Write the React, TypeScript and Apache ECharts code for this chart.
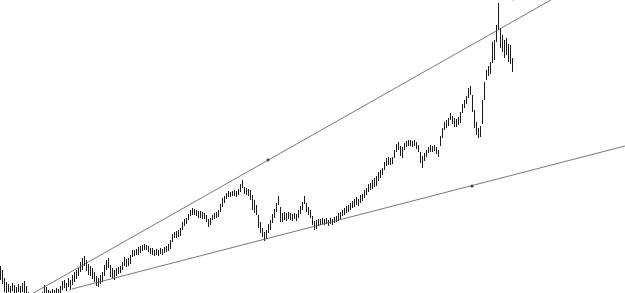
import React, { useEffect, useRef } from "react";
import * as echarts from "echarts";

// Bar highs / lows (price units), one per session, left to right
const highs = [
  27, 23, 15, 11, 9, 7, 10, 8, 6, 9, 7, 10, 12, 7, 1, -1, -3, -4, -2, -3, -1, 1, 8, 6, 3, 2, 4, 3, 5, 4,
  7, 12, 13, 10, 15, 13, 18, 21, 23, 25, 31, 35, 37, 33, 29, 27, 25, 21, 17, 15, 18, 21, 28, 33, 35, 28, 25, 23, 25, 26,
  27, 31, 36, 34, 35, 38, 43, 43, 44, 46, 47, 48, 49, 48, 47, 45, 45, 43, 44, 43, 45, 44, 46, 47, 49, 53, 59, 61, 62, 63,
  65, 71, 74, 75, 79, 83, 85, 84, 83, 82, 82, 81, 80, 78, 74, 75, 78, 80, 81, 83, 89, 95, 97, 100, 102, 101, 102, 103, 102, 104,
  109, 113, 106, 105, 104, 103, 98, 93, 88, 78, 71, 65, 61, 63, 69, 73, 79, 84, 90, 97, 86, 80, 81, 80, 81, 80, 79, 80, 79, 83,
  87, 91, 97, 90, 86, 83, 77, 72, 73, 74, 74, 75, 74, 75, 73, 75, 74, 76, 77, 80, 81, 83, 85, 87, 88, 90, 92, 94, 96, 94,
  98, 99, 103, 105, 109, 110, 113, 115, 117, 121, 123, 125, 131, 135, 136, 135, 136, 143, 149, 151, 147, 146, 150, 152, 153, 153, 152, 153, 151, 148,
  141, 137, 140, 143, 146, 148, 147, 148, 146, 143, 157, 165, 171, 173, 175, 180, 177, 175, 174, 176, 181, 189, 193, 197, 205, 207, 198, 183, 171, 165,
  167, 193, 211, 223, 227, 231, 251, 253, 268, 290, 265, 258, 253, 255, 249, 248, 235,
];
const lows = [
  13, 9, 1, 0, 1, 0, 2, 0, -2, 1, -1, 1, 0, -3, -7, -9, -11, -12, -10, -11, -8, -7, 0, -2, -5, -6, -3, -4, -2, -3,
  -1, 3, 5, 2, 6, 3, 8, 11, 14, 17, 21, 23, 27, 22, 18, 17, 14, 11, 7, 6, 9, 11, 17, 23, 25, 16, 15, 13, 17, 19,
  20, 23, 27, 26, 27, 29, 36, 37, 38, 38, 40, 42, 43, 43, 41, 39, 38, 37, 38, 37, 39, 38, 40, 41, 42, 44, 51, 55, 55, 56,
  57, 63, 67, 69, 73, 77, 78, 78, 77, 75, 75, 74, 74, 71, 66, 68, 73, 74, 75, 76, 81, 86, 90, 94, 96, 96, 97, 97, 96, 98,
  101, 105, 99, 98, 97, 93, 83, 80, 78, 65, 60, 56, 52, 54, 60, 63, 70, 75, 81, 88, 71, 71, 73, 72, 74, 73, 72, 74, 72, 75,
  79, 83, 89, 81, 78, 75, 68, 63, 64, 67, 68, 69, 68, 69, 67, 69, 68, 70, 71, 72, 74, 77, 78, 80, 81, 83, 85, 86, 88, 87,
  90, 92, 95, 98, 101, 103, 104, 106, 107, 112, 115, 118, 123, 127, 128, 128, 129, 135, 141, 143, 137, 135, 143, 146, 147, 147, 146, 147, 144, 141,
  130, 125, 132, 136, 140, 141, 141, 142, 139, 136, 147, 155, 163, 165, 167, 173, 169, 166, 166, 168, 170, 180, 185, 189, 195, 198, 181, 165, 158, 155,
  156, 169, 193, 213, 217, 219, 230, 233, 251, 263, 245, 241, 235, 238, 231, 229, 221,
];
const sessions = highs.map((_, i) => String(i + 1));

// Trend lines (x in chart units 0..625, price units)
const upperTrend = [[0, -19], [625, 335]];
const lowerTrend = [[72, 4], [625, 147]];
const anchorDots = [[268, 133], [472, 107]];
const edgeMark = [[513, 293]];

export default function App() {
  const ref = useRef<HTMLDivElement>(null);
  useEffect(() => {
    if (!ref.current) return;
    const chart = echarts.init(ref.current, undefined, { renderer: "svg" });
    const ohlc = highs.map((h, i) => [lows[i], h, lows[i], h]);
    chart.setOption({
      animation: false,
      backgroundColor: "#ffffff",
      grid: [
        { left: 0, top: 0, width: 514, height: 293 },
        { left: 0, top: 0, width: 625, height: 293 },
      ],
      xAxis: [
        { type: "category", gridIndex: 0, data: sessions, boundaryGap: true, show: false },
        { type: "value", gridIndex: 1, min: 0, max: 625, show: false },
      ],
      yAxis: [
        { type: "value", gridIndex: 0, min: 0, max: 293, show: false },
        { type: "value", gridIndex: 1, min: 0, max: 293, show: false },
      ],
      series: [
        {
          type: "candlestick",
          xAxisIndex: 0,
          yAxisIndex: 0,
          data: ohlc,
          barWidth: 1,
          clip: true,
          itemStyle: {
            color: "#1a1a1a",
            color0: "#1a1a1a",
            borderColor: "#1a1a1a",
            borderColor0: "#1a1a1a",
            borderWidth: 1,
          },
        },
        {
          type: "line",
          xAxisIndex: 1,
          yAxisIndex: 1,
          data: upperTrend,
          symbol: "none",
          clip: true,
          lineStyle: { color: "#555", width: 0.8 },
        },
        {
          type: "line",
          xAxisIndex: 1,
          yAxisIndex: 1,
          data: lowerTrend,
          symbol: "none",
          clip: true,
          lineStyle: { color: "#555", width: 0.8 },
        },
        {
          type: "scatter",
          xAxisIndex: 1,
          yAxisIndex: 1,
          data: anchorDots,
          symbolSize: 3,
          clip: false,
          itemStyle: { color: "#000" },
        },
        {
          type: "scatter",
          xAxisIndex: 1,
          yAxisIndex: 1,
          data: edgeMark,
          symbolSize: 2,
          clip: false,
          itemStyle: { color: "#bbb" },
        },
      ],
    });
    return () => chart.dispose();
  }, []);
  return (
    <div
      ref={ref}
      style={{ position: "fixed", left: 0, top: 0, width: 625, height: 293 }}
    />
  );
}
